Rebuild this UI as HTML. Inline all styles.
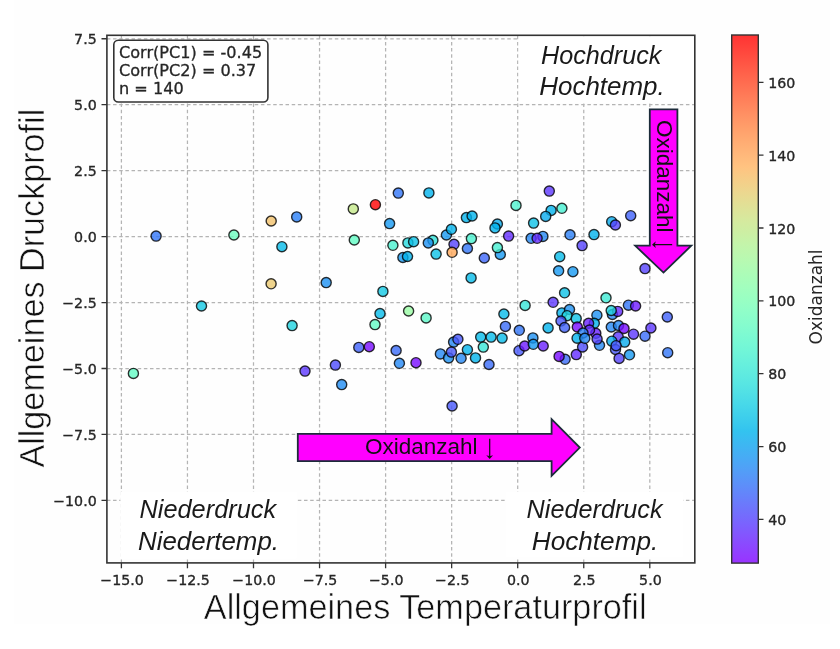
<!DOCTYPE html>
<html><head><meta charset="utf-8"><title>Scatter</title>
<style>html,body{margin:0;padding:0;background:#fff;}svg{display:block;will-change:transform;}</style>
</head><body>
<svg width="840" height="649" viewBox="0 0 840 649"><defs><linearGradient id="cb" x1="0" y1="1" x2="0" y2="0"><stop offset="0.000" stop-color="#9933ff"/><stop offset="0.025" stop-color="#8f43ff"/><stop offset="0.050" stop-color="#8553fe"/><stop offset="0.075" stop-color="#7a63fe"/><stop offset="0.100" stop-color="#7072fc"/><stop offset="0.125" stop-color="#6681fb"/><stop offset="0.150" stop-color="#5c90f9"/><stop offset="0.175" stop-color="#529ef7"/><stop offset="0.200" stop-color="#47abf5"/><stop offset="0.225" stop-color="#3db7f2"/><stop offset="0.250" stop-color="#33c3ef"/><stop offset="0.275" stop-color="#3dceec"/><stop offset="0.300" stop-color="#47d8e9"/><stop offset="0.325" stop-color="#52e1e5"/><stop offset="0.350" stop-color="#5ce9e1"/><stop offset="0.375" stop-color="#66efdd"/><stop offset="0.400" stop-color="#70f5d8"/><stop offset="0.425" stop-color="#7af9d3"/><stop offset="0.450" stop-color="#85fcce"/><stop offset="0.475" stop-color="#8ffec9"/><stop offset="0.500" stop-color="#99ffc3"/><stop offset="0.525" stop-color="#a3febd"/><stop offset="0.550" stop-color="#adfcb7"/><stop offset="0.575" stop-color="#b8f9b1"/><stop offset="0.600" stop-color="#c2f5ab"/><stop offset="0.625" stop-color="#ccefa4"/><stop offset="0.650" stop-color="#d6e99e"/><stop offset="0.675" stop-color="#e0e197"/><stop offset="0.700" stop-color="#ebd890"/><stop offset="0.725" stop-color="#f5ce88"/><stop offset="0.750" stop-color="#ffc381"/><stop offset="0.775" stop-color="#ffb77a"/><stop offset="0.800" stop-color="#ffab72"/><stop offset="0.825" stop-color="#ff9e6a"/><stop offset="0.850" stop-color="#ff9063"/><stop offset="0.875" stop-color="#ff815b"/><stop offset="0.900" stop-color="#ff7253"/><stop offset="0.925" stop-color="#ff634b"/><stop offset="0.950" stop-color="#ff5343"/><stop offset="0.975" stop-color="#ff433b"/><stop offset="1.000" stop-color="#ff3333"/></linearGradient></defs><rect x="0" y="0" width="840" height="649" fill="#ffffff"/><rect x="14" y="0" width="816" height="624" fill="#fefefe"/><path d="M121.40 562.90V35.30M187.45 562.90V35.30M253.50 562.90V35.30M319.55 562.90V35.30M385.60 562.90V35.30M451.65 562.90V35.30M517.70 562.90V35.30M583.75 562.90V35.30M649.80 562.90V35.30M106.90 38.75H694.80M106.90 104.70H694.80M106.90 170.65H694.80M106.90 236.60H694.80M106.90 302.55H694.80M106.90 368.50H694.80M106.90 434.45H694.80M106.90 500.40H694.80" stroke="#b4b4b4" stroke-width="1.25" stroke-dasharray="3.5 2.66" fill="none"/><rect x="518.6" y="36.2" width="175.3" height="67" fill="#fff"/><rect x="120.4" y="492" width="176.4" height="66.5" fill="#fff"/><rect x="506" y="492" width="177" height="65" fill="#fff"/><circle cx="156.1" cy="236.1" r="5.05" fill="#3275f8" fill-opacity="0.8" stroke="#000" stroke-opacity="0.8" stroke-width="1.4"/><circle cx="233.9" cy="235.0" r="5.05" fill="#6cfdbf" fill-opacity="0.8" stroke="#000" stroke-opacity="0.8" stroke-width="1.4"/><circle cx="271.2" cy="221.0" r="5.05" fill="#f2c26b" fill-opacity="0.8" stroke="#000" stroke-opacity="0.8" stroke-width="1.4"/><circle cx="281.9" cy="246.7" r="5.05" fill="#06bbea" fill-opacity="0.8" stroke="#000" stroke-opacity="0.8" stroke-width="1.4"/><circle cx="271.1" cy="283.8" r="5.05" fill="#ebc970" fill-opacity="0.8" stroke="#000" stroke-opacity="0.8" stroke-width="1.4"/><circle cx="201.5" cy="306.0" r="5.05" fill="#14c9e5" fill-opacity="0.8" stroke="#000" stroke-opacity="0.8" stroke-width="1.4"/><circle cx="296.7" cy="216.9" r="5.05" fill="#2b7ff6" fill-opacity="0.8" stroke="#000" stroke-opacity="0.8" stroke-width="1.4"/><circle cx="353.3" cy="208.9" r="5.05" fill="#c4e98a" fill-opacity="0.8" stroke="#000" stroke-opacity="0.8" stroke-width="1.4"/><circle cx="354.3" cy="240.0" r="5.05" fill="#62fbc4" fill-opacity="0.8" stroke="#000" stroke-opacity="0.8" stroke-width="1.4"/><circle cx="326.2" cy="282.6" r="5.05" fill="#1d91f3" fill-opacity="0.8" stroke="#000" stroke-opacity="0.8" stroke-width="1.4"/><circle cx="292.1" cy="325.6" r="5.05" fill="#1fd3e1" fill-opacity="0.8" stroke="#000" stroke-opacity="0.8" stroke-width="1.4"/><circle cx="133.4" cy="373.4" r="5.05" fill="#62fbc4" fill-opacity="0.8" stroke="#000" stroke-opacity="0.8" stroke-width="1.4"/><circle cx="305.0" cy="371.1" r="5.05" fill="#5c37fe" fill-opacity="0.8" stroke="#000" stroke-opacity="0.8" stroke-width="1.4"/><circle cx="335.4" cy="365.1" r="5.05" fill="#4e4cfc" fill-opacity="0.8" stroke="#000" stroke-opacity="0.8" stroke-width="1.4"/><circle cx="341.7" cy="384.6" r="5.05" fill="#218df4" fill-opacity="0.8" stroke="#000" stroke-opacity="0.8" stroke-width="1.4"/><circle cx="358.8" cy="347.4" r="5.05" fill="#4061fa" fill-opacity="0.8" stroke="#000" stroke-opacity="0.8" stroke-width="1.4"/><circle cx="369.3" cy="346.7" r="5.05" fill="#780bff" fill-opacity="0.8" stroke="#000" stroke-opacity="0.8" stroke-width="1.4"/><circle cx="375.4" cy="204.7" r="5.05" fill="#ff0000" fill-opacity="0.8" stroke="#000" stroke-opacity="0.8" stroke-width="1.4"/><circle cx="398.3" cy="193.1" r="5.05" fill="#3275f8" fill-opacity="0.8" stroke="#000" stroke-opacity="0.8" stroke-width="1.4"/><circle cx="428.9" cy="192.9" r="5.05" fill="#01b3ec" fill-opacity="0.8" stroke="#000" stroke-opacity="0.8" stroke-width="1.4"/><circle cx="389.6" cy="223.6" r="5.05" fill="#169af2" fill-opacity="0.8" stroke="#000" stroke-opacity="0.8" stroke-width="1.4"/><circle cx="392.9" cy="245.3" r="5.05" fill="#49f1d0" fill-opacity="0.8" stroke="#000" stroke-opacity="0.8" stroke-width="1.4"/><circle cx="407.9" cy="242.9" r="5.05" fill="#26d9df" fill-opacity="0.8" stroke="#000" stroke-opacity="0.8" stroke-width="1.4"/><circle cx="413.6" cy="241.7" r="5.05" fill="#0dc2e7" fill-opacity="0.8" stroke="#000" stroke-opacity="0.8" stroke-width="1.4"/><circle cx="432.9" cy="240.3" r="5.05" fill="#30e1da" fill-opacity="0.8" stroke="#000" stroke-opacity="0.8" stroke-width="1.4"/><circle cx="428.3" cy="242.9" r="5.05" fill="#1d91f3" fill-opacity="0.8" stroke="#000" stroke-opacity="0.8" stroke-width="1.4"/><circle cx="436.1" cy="254.1" r="5.05" fill="#0dc2e7" fill-opacity="0.8" stroke="#000" stroke-opacity="0.8" stroke-width="1.4"/><circle cx="446.4" cy="235.0" r="5.05" fill="#169af2" fill-opacity="0.8" stroke="#000" stroke-opacity="0.8" stroke-width="1.4"/><circle cx="451.4" cy="229.3" r="5.05" fill="#01b3ec" fill-opacity="0.8" stroke="#000" stroke-opacity="0.8" stroke-width="1.4"/><circle cx="454.0" cy="244.3" r="5.05" fill="#5542fd" fill-opacity="0.8" stroke="#000" stroke-opacity="0.8" stroke-width="1.4"/><circle cx="452.1" cy="252.3" r="5.05" fill="#ffa759" fill-opacity="0.8" stroke="#000" stroke-opacity="0.8" stroke-width="1.4"/><circle cx="466.4" cy="217.6" r="5.05" fill="#01b3ec" fill-opacity="0.8" stroke="#000" stroke-opacity="0.8" stroke-width="1.4"/><circle cx="472.1" cy="216.0" r="5.05" fill="#01b3ec" fill-opacity="0.8" stroke="#000" stroke-opacity="0.8" stroke-width="1.4"/><circle cx="471.4" cy="238.6" r="5.05" fill="#49f1d0" fill-opacity="0.8" stroke="#000" stroke-opacity="0.8" stroke-width="1.4"/><circle cx="467.4" cy="248.5" r="5.05" fill="#3275f8" fill-opacity="0.8" stroke="#000" stroke-opacity="0.8" stroke-width="1.4"/><circle cx="402.9" cy="257.5" r="5.05" fill="#169af2" fill-opacity="0.8" stroke="#000" stroke-opacity="0.8" stroke-width="1.4"/><circle cx="407.5" cy="256.5" r="5.05" fill="#01b3ec" fill-opacity="0.8" stroke="#000" stroke-opacity="0.8" stroke-width="1.4"/><circle cx="484.3" cy="258.0" r="5.05" fill="#3d66fa" fill-opacity="0.8" stroke="#000" stroke-opacity="0.8" stroke-width="1.4"/><circle cx="471.1" cy="277.9" r="5.05" fill="#06bbea" fill-opacity="0.8" stroke="#000" stroke-opacity="0.8" stroke-width="1.4"/><circle cx="382.9" cy="291.4" r="5.05" fill="#14c9e5" fill-opacity="0.8" stroke="#000" stroke-opacity="0.8" stroke-width="1.4"/><circle cx="380.0" cy="313.6" r="5.05" fill="#06bbea" fill-opacity="0.8" stroke="#000" stroke-opacity="0.8" stroke-width="1.4"/><circle cx="408.6" cy="311.0" r="5.05" fill="#9afca5" fill-opacity="0.8" stroke="#000" stroke-opacity="0.8" stroke-width="1.4"/><circle cx="426.1" cy="317.9" r="5.05" fill="#5bf8c8" fill-opacity="0.8" stroke="#000" stroke-opacity="0.8" stroke-width="1.4"/><circle cx="375.0" cy="324.6" r="5.05" fill="#62fbc4" fill-opacity="0.8" stroke="#000" stroke-opacity="0.8" stroke-width="1.4"/><circle cx="396.1" cy="350.5" r="5.05" fill="#396bf9" fill-opacity="0.8" stroke="#000" stroke-opacity="0.8" stroke-width="1.4"/><circle cx="399.4" cy="363.3" r="5.05" fill="#2488f5" fill-opacity="0.8" stroke="#000" stroke-opacity="0.8" stroke-width="1.4"/><circle cx="416.0" cy="362.7" r="5.05" fill="#780bff" fill-opacity="0.8" stroke="#000" stroke-opacity="0.8" stroke-width="1.4"/><circle cx="440.4" cy="353.9" r="5.05" fill="#2488f5" fill-opacity="0.8" stroke="#000" stroke-opacity="0.8" stroke-width="1.4"/><circle cx="448.6" cy="357.9" r="5.05" fill="#1d91f3" fill-opacity="0.8" stroke="#000" stroke-opacity="0.8" stroke-width="1.4"/><circle cx="453.6" cy="342.1" r="5.05" fill="#2488f5" fill-opacity="0.8" stroke="#000" stroke-opacity="0.8" stroke-width="1.4"/><circle cx="457.9" cy="339.3" r="5.05" fill="#4757fb" fill-opacity="0.8" stroke="#000" stroke-opacity="0.8" stroke-width="1.4"/><circle cx="451.4" cy="352.1" r="5.05" fill="#4757fb" fill-opacity="0.8" stroke="#000" stroke-opacity="0.8" stroke-width="1.4"/><circle cx="467.4" cy="349.7" r="5.05" fill="#01b3ec" fill-opacity="0.8" stroke="#000" stroke-opacity="0.8" stroke-width="1.4"/><circle cx="461.1" cy="358.3" r="5.05" fill="#2488f5" fill-opacity="0.8" stroke="#000" stroke-opacity="0.8" stroke-width="1.4"/><circle cx="475.5" cy="357.9" r="5.05" fill="#01b3ec" fill-opacity="0.8" stroke="#000" stroke-opacity="0.8" stroke-width="1.4"/><circle cx="480.7" cy="337.1" r="5.05" fill="#06bbea" fill-opacity="0.8" stroke="#000" stroke-opacity="0.8" stroke-width="1.4"/><circle cx="491.1" cy="337.1" r="5.05" fill="#06bbea" fill-opacity="0.8" stroke="#000" stroke-opacity="0.8" stroke-width="1.4"/><circle cx="483.3" cy="347.1" r="5.05" fill="#37e6d8" fill-opacity="0.8" stroke="#000" stroke-opacity="0.8" stroke-width="1.4"/><circle cx="502.1" cy="338.1" r="5.05" fill="#06bbea" fill-opacity="0.8" stroke="#000" stroke-opacity="0.8" stroke-width="1.4"/><circle cx="505.4" cy="326.4" r="5.05" fill="#396bf9" fill-opacity="0.8" stroke="#000" stroke-opacity="0.8" stroke-width="1.4"/><circle cx="489.0" cy="364.5" r="5.05" fill="#396bf9" fill-opacity="0.8" stroke="#000" stroke-opacity="0.8" stroke-width="1.4"/><circle cx="519.3" cy="330.3" r="5.05" fill="#3275f8" fill-opacity="0.8" stroke="#000" stroke-opacity="0.8" stroke-width="1.4"/><circle cx="519.0" cy="350.7" r="5.05" fill="#4757fb" fill-opacity="0.8" stroke="#000" stroke-opacity="0.8" stroke-width="1.4"/><circle cx="524.7" cy="346.0" r="5.05" fill="#6e1cff" fill-opacity="0.8" stroke="#000" stroke-opacity="0.8" stroke-width="1.4"/><circle cx="532.9" cy="337.9" r="5.05" fill="#1d91f3" fill-opacity="0.8" stroke="#000" stroke-opacity="0.8" stroke-width="1.4"/><circle cx="533.3" cy="344.3" r="5.05" fill="#169af2" fill-opacity="0.8" stroke="#000" stroke-opacity="0.8" stroke-width="1.4"/><circle cx="543.2" cy="346.0" r="5.05" fill="#6a21fe" fill-opacity="0.8" stroke="#000" stroke-opacity="0.8" stroke-width="1.4"/><circle cx="548.1" cy="327.9" r="5.05" fill="#01b3ec" fill-opacity="0.8" stroke="#000" stroke-opacity="0.8" stroke-width="1.4"/><circle cx="565.1" cy="359.3" r="5.05" fill="#396bf9" fill-opacity="0.8" stroke="#000" stroke-opacity="0.8" stroke-width="1.4"/><circle cx="559.1" cy="356.4" r="5.05" fill="#780bff" fill-opacity="0.8" stroke="#000" stroke-opacity="0.8" stroke-width="1.4"/><circle cx="576.3" cy="354.6" r="5.05" fill="#632cfe" fill-opacity="0.8" stroke="#000" stroke-opacity="0.8" stroke-width="1.4"/><circle cx="582.6" cy="347.0" r="5.05" fill="#4e4cfc" fill-opacity="0.8" stroke="#000" stroke-opacity="0.8" stroke-width="1.4"/><circle cx="452.1" cy="406.0" r="5.05" fill="#4757fb" fill-opacity="0.8" stroke="#000" stroke-opacity="0.8" stroke-width="1.4"/><circle cx="503.9" cy="314.0" r="5.05" fill="#06bbea" fill-opacity="0.8" stroke="#000" stroke-opacity="0.8" stroke-width="1.4"/><circle cx="525.1" cy="305.4" r="5.05" fill="#37e6d8" fill-opacity="0.8" stroke="#000" stroke-opacity="0.8" stroke-width="1.4"/><circle cx="497.4" cy="224.0" r="5.05" fill="#08abee" fill-opacity="0.8" stroke="#000" stroke-opacity="0.8" stroke-width="1.4"/><circle cx="495.0" cy="227.9" r="5.05" fill="#01b3ec" fill-opacity="0.8" stroke="#000" stroke-opacity="0.8" stroke-width="1.4"/><circle cx="508.6" cy="236.1" r="5.05" fill="#632cfe" fill-opacity="0.8" stroke="#000" stroke-opacity="0.8" stroke-width="1.4"/><circle cx="516.0" cy="205.4" r="5.05" fill="#4df3ce" fill-opacity="0.8" stroke="#000" stroke-opacity="0.8" stroke-width="1.4"/><circle cx="500.3" cy="254.5" r="5.05" fill="#169af2" fill-opacity="0.8" stroke="#000" stroke-opacity="0.8" stroke-width="1.4"/><circle cx="497.4" cy="247.6" r="5.05" fill="#45efd1" fill-opacity="0.8" stroke="#000" stroke-opacity="0.8" stroke-width="1.4"/><circle cx="549.3" cy="191.1" r="5.05" fill="#5c37fe" fill-opacity="0.8" stroke="#000" stroke-opacity="0.8" stroke-width="1.4"/><circle cx="551.1" cy="210.4" r="5.05" fill="#01b3ec" fill-opacity="0.8" stroke="#000" stroke-opacity="0.8" stroke-width="1.4"/><circle cx="545.7" cy="216.4" r="5.05" fill="#08abee" fill-opacity="0.8" stroke="#000" stroke-opacity="0.8" stroke-width="1.4"/><circle cx="561.9" cy="208.3" r="5.05" fill="#45efd1" fill-opacity="0.8" stroke="#000" stroke-opacity="0.8" stroke-width="1.4"/><circle cx="533.6" cy="223.1" r="5.05" fill="#0dc2e7" fill-opacity="0.8" stroke="#000" stroke-opacity="0.8" stroke-width="1.4"/><circle cx="531.1" cy="238.3" r="5.05" fill="#2488f5" fill-opacity="0.8" stroke="#000" stroke-opacity="0.8" stroke-width="1.4"/><circle cx="542.9" cy="236.4" r="5.05" fill="#2488f5" fill-opacity="0.8" stroke="#000" stroke-opacity="0.8" stroke-width="1.4"/><circle cx="537.1" cy="238.3" r="5.05" fill="#632cfe" fill-opacity="0.8" stroke="#000" stroke-opacity="0.8" stroke-width="1.4"/><circle cx="570.0" cy="234.8" r="5.05" fill="#2b7ff6" fill-opacity="0.8" stroke="#000" stroke-opacity="0.8" stroke-width="1.4"/><circle cx="582.1" cy="245.6" r="5.05" fill="#5542fd" fill-opacity="0.8" stroke="#000" stroke-opacity="0.8" stroke-width="1.4"/><circle cx="559.7" cy="256.7" r="5.05" fill="#06bbea" fill-opacity="0.8" stroke="#000" stroke-opacity="0.8" stroke-width="1.4"/><circle cx="594.0" cy="234.6" r="5.05" fill="#01b3ec" fill-opacity="0.8" stroke="#000" stroke-opacity="0.8" stroke-width="1.4"/><circle cx="611.7" cy="221.7" r="5.05" fill="#08abee" fill-opacity="0.8" stroke="#000" stroke-opacity="0.8" stroke-width="1.4"/><circle cx="615.4" cy="225.0" r="5.05" fill="#5542fd" fill-opacity="0.8" stroke="#000" stroke-opacity="0.8" stroke-width="1.4"/><circle cx="630.7" cy="215.7" r="5.05" fill="#4061fa" fill-opacity="0.8" stroke="#000" stroke-opacity="0.8" stroke-width="1.4"/><circle cx="558.6" cy="270.8" r="5.05" fill="#169af2" fill-opacity="0.8" stroke="#000" stroke-opacity="0.8" stroke-width="1.4"/><circle cx="572.9" cy="271.7" r="5.05" fill="#169af2" fill-opacity="0.8" stroke="#000" stroke-opacity="0.8" stroke-width="1.4"/><circle cx="645.0" cy="268.6" r="5.05" fill="#5542fd" fill-opacity="0.8" stroke="#000" stroke-opacity="0.8" stroke-width="1.4"/><circle cx="564.6" cy="292.8" r="5.05" fill="#0dc2e7" fill-opacity="0.8" stroke="#000" stroke-opacity="0.8" stroke-width="1.4"/><circle cx="553.1" cy="302.3" r="5.05" fill="#5c37fe" fill-opacity="0.8" stroke="#000" stroke-opacity="0.8" stroke-width="1.4"/><circle cx="606.0" cy="297.8" r="5.05" fill="#3eebd5" fill-opacity="0.8" stroke="#000" stroke-opacity="0.8" stroke-width="1.4"/><circle cx="561.9" cy="312.9" r="5.05" fill="#01b3ec" fill-opacity="0.8" stroke="#000" stroke-opacity="0.8" stroke-width="1.4"/><circle cx="569.5" cy="309.5" r="5.05" fill="#1d91f3" fill-opacity="0.8" stroke="#000" stroke-opacity="0.8" stroke-width="1.4"/><circle cx="567.1" cy="315.7" r="5.05" fill="#22d6e0" fill-opacity="0.8" stroke="#000" stroke-opacity="0.8" stroke-width="1.4"/><circle cx="576.2" cy="318.6" r="5.05" fill="#0dc2e7" fill-opacity="0.8" stroke="#000" stroke-opacity="0.8" stroke-width="1.4"/><circle cx="561.0" cy="321.0" r="5.05" fill="#4757fb" fill-opacity="0.8" stroke="#000" stroke-opacity="0.8" stroke-width="1.4"/><circle cx="564.6" cy="327.5" r="5.05" fill="#4061fa" fill-opacity="0.8" stroke="#000" stroke-opacity="0.8" stroke-width="1.4"/><circle cx="596.9" cy="315.2" r="5.05" fill="#1d91f3" fill-opacity="0.8" stroke="#000" stroke-opacity="0.8" stroke-width="1.4"/><circle cx="577.3" cy="327.0" r="5.05" fill="#780bff" fill-opacity="0.8" stroke="#000" stroke-opacity="0.8" stroke-width="1.4"/><circle cx="594.3" cy="323.3" r="5.05" fill="#01b3ec" fill-opacity="0.8" stroke="#000" stroke-opacity="0.8" stroke-width="1.4"/><circle cx="588.6" cy="323.3" r="5.05" fill="#6a21fe" fill-opacity="0.8" stroke="#000" stroke-opacity="0.8" stroke-width="1.4"/><circle cx="595.8" cy="333.3" r="5.05" fill="#6a21fe" fill-opacity="0.8" stroke="#000" stroke-opacity="0.8" stroke-width="1.4"/><circle cx="589.5" cy="330.0" r="5.05" fill="#632cfe" fill-opacity="0.8" stroke="#000" stroke-opacity="0.8" stroke-width="1.4"/><circle cx="583.0" cy="333.0" r="5.05" fill="#2b7ff6" fill-opacity="0.8" stroke="#000" stroke-opacity="0.8" stroke-width="1.4"/><circle cx="577.1" cy="338.2" r="5.05" fill="#01b3ec" fill-opacity="0.8" stroke="#000" stroke-opacity="0.8" stroke-width="1.4"/><circle cx="584.8" cy="338.3" r="5.05" fill="#2488f5" fill-opacity="0.8" stroke="#000" stroke-opacity="0.8" stroke-width="1.4"/><circle cx="599.5" cy="345.3" r="5.05" fill="#2488f5" fill-opacity="0.8" stroke="#000" stroke-opacity="0.8" stroke-width="1.4"/><circle cx="597.1" cy="339.1" r="5.05" fill="#5542fd" fill-opacity="0.8" stroke="#000" stroke-opacity="0.8" stroke-width="1.4"/><circle cx="612.4" cy="314.5" r="5.05" fill="#2488f5" fill-opacity="0.8" stroke="#000" stroke-opacity="0.8" stroke-width="1.4"/><circle cx="617.7" cy="311.4" r="5.05" fill="#632cfe" fill-opacity="0.8" stroke="#000" stroke-opacity="0.8" stroke-width="1.4"/><circle cx="611.2" cy="310.5" r="5.05" fill="#22d6e0" fill-opacity="0.8" stroke="#000" stroke-opacity="0.8" stroke-width="1.4"/><circle cx="611.3" cy="327.0" r="5.05" fill="#2488f5" fill-opacity="0.8" stroke="#000" stroke-opacity="0.8" stroke-width="1.4"/><circle cx="618.5" cy="325.5" r="5.05" fill="#2488f5" fill-opacity="0.8" stroke="#000" stroke-opacity="0.8" stroke-width="1.4"/><circle cx="628.4" cy="305.2" r="5.05" fill="#3275f8" fill-opacity="0.8" stroke="#000" stroke-opacity="0.8" stroke-width="1.4"/><circle cx="635.6" cy="306.0" r="5.05" fill="#6e1cff" fill-opacity="0.8" stroke="#000" stroke-opacity="0.8" stroke-width="1.4"/><circle cx="667.3" cy="317.0" r="5.05" fill="#4061fa" fill-opacity="0.8" stroke="#000" stroke-opacity="0.8" stroke-width="1.4"/><circle cx="624.0" cy="328.5" r="5.05" fill="#780bff" fill-opacity="0.8" stroke="#000" stroke-opacity="0.8" stroke-width="1.4"/><circle cx="650.9" cy="328.0" r="5.05" fill="#5c37fe" fill-opacity="0.8" stroke="#000" stroke-opacity="0.8" stroke-width="1.4"/><circle cx="633.5" cy="334.2" r="5.05" fill="#5c37fe" fill-opacity="0.8" stroke="#000" stroke-opacity="0.8" stroke-width="1.4"/><circle cx="645.0" cy="336.2" r="5.05" fill="#396bf9" fill-opacity="0.8" stroke="#000" stroke-opacity="0.8" stroke-width="1.4"/><circle cx="618.2" cy="336.8" r="5.05" fill="#5c37fe" fill-opacity="0.8" stroke="#000" stroke-opacity="0.8" stroke-width="1.4"/><circle cx="611.8" cy="341.2" r="5.05" fill="#08abee" fill-opacity="0.8" stroke="#000" stroke-opacity="0.8" stroke-width="1.4"/><circle cx="624.7" cy="342.1" r="5.05" fill="#08abee" fill-opacity="0.8" stroke="#000" stroke-opacity="0.8" stroke-width="1.4"/><circle cx="615.5" cy="349.5" r="5.05" fill="#4757fb" fill-opacity="0.8" stroke="#000" stroke-opacity="0.8" stroke-width="1.4"/><circle cx="616.1" cy="345.7" r="5.05" fill="#4757fb" fill-opacity="0.8" stroke="#000" stroke-opacity="0.8" stroke-width="1.4"/><circle cx="619.1" cy="358.4" r="5.05" fill="#5542fd" fill-opacity="0.8" stroke="#000" stroke-opacity="0.8" stroke-width="1.4"/><circle cx="629.5" cy="354.8" r="5.05" fill="#169af2" fill-opacity="0.8" stroke="#000" stroke-opacity="0.8" stroke-width="1.4"/><circle cx="667.7" cy="352.7" r="5.05" fill="#3275f8" fill-opacity="0.8" stroke="#000" stroke-opacity="0.8" stroke-width="1.4"/><rect x="106.9" y="35.3" width="587.90" height="527.60" fill="none" stroke="#333" stroke-width="1.6"/><path d="M121.40 562.90v5.4M187.45 562.90v5.4M253.50 562.90v5.4M319.55 562.90v5.4M385.60 562.90v5.4M451.65 562.90v5.4M517.70 562.90v5.4M583.75 562.90v5.4M649.80 562.90v5.4M106.90 38.75h-5.4M106.90 104.70h-5.4M106.90 170.65h-5.4M106.90 236.60h-5.4M106.90 302.55h-5.4M106.90 368.50h-5.4M106.90 434.45h-5.4M106.90 500.40h-5.4" stroke="#333" stroke-width="1.3"/><g font-family="DejaVu Sans, sans-serif" font-size="14.2" fill="#262626" stroke="#262626" stroke-width="0.35"><text x="122.00" y="584.60" text-anchor="middle">−15.0</text><text x="188.05" y="584.60" text-anchor="middle">−12.5</text><text x="254.10" y="584.60" text-anchor="middle">−10.0</text><text x="320.15" y="584.60" text-anchor="middle">−7.5</text><text x="386.20" y="584.60" text-anchor="middle">−5.0</text><text x="452.25" y="584.60" text-anchor="middle">−2.5</text><text x="518.30" y="584.60" text-anchor="middle">0.0</text><text x="584.35" y="584.60" text-anchor="middle">2.5</text><text x="650.40" y="584.60" text-anchor="middle">5.0</text><text x="96.7" y="44.05" text-anchor="end">7.5</text><text x="96.7" y="110.00" text-anchor="end">5.0</text><text x="96.7" y="175.95" text-anchor="end">2.5</text><text x="96.7" y="241.90" text-anchor="end">0.0</text><text x="96.7" y="307.85" text-anchor="end">−2.5</text><text x="96.7" y="373.80" text-anchor="end">−5.0</text><text x="96.7" y="439.75" text-anchor="end">−7.5</text><text x="96.7" y="505.70" text-anchor="end">−10.0</text></g><rect x="113.8" y="40.3" width="154.1" height="61.7" rx="4.5" fill="#fff" stroke="#333" stroke-width="1.6"/><g font-family="DejaVu Sans, sans-serif" font-size="16.1" fill="#262626" stroke="#262626" stroke-width="0.3"><text x="119.0" y="58.0">Corr(PC1) = -0.45</text><text x="119.0" y="76.2">Corr(PC2) = 0.37</text><text x="119.0" y="94.2">n = 140</text></g><g font-family="Liberation Sans, sans-serif" font-style="italic" font-size="25.4" fill="#1a1a1a" text-anchor="middle"><text x="601.2" y="63.9" textLength="120.5" lengthAdjust="spacingAndGlyphs">Hochdruck</text><text x="602.0" y="95.0" textLength="125.5" lengthAdjust="spacingAndGlyphs">Hochtemp.</text><text x="207.8" y="518.1" textLength="136.5" lengthAdjust="spacingAndGlyphs">Niederdruck</text><text x="208.5" y="550.2" textLength="141" lengthAdjust="spacingAndGlyphs">Niedertemp.</text><text x="594.6" y="518.1" textLength="136" lengthAdjust="spacingAndGlyphs">Niederdruck</text><text x="595.0" y="550.2" textLength="126.5" lengthAdjust="spacingAndGlyphs">Hochtemp.</text></g><polygon points="297.8,433.8 551.6,433.8 551.6,419.2 579.8,447.6 551.6,475.8 551.6,461.2 297.8,461.2" fill="#ff00ff" stroke="#1c2b3a" stroke-width="1.8" stroke-linejoin="miter"/><polygon points="649.8,109.3 677.4,109.3 677.4,245.7 691.3,245.7 663.5,272.6 635.2,245.7 649.8,245.7" fill="#ff00ff" stroke="#1c2b3a" stroke-width="1.8"/><g font-family="Liberation Sans, sans-serif" font-size="22.5" fill="#111"><text x="365" y="454.1">Oxidanzahl<tspan font-family="NanumGothic, Liberation Sans, sans-serif" font-weight="bold" font-size="20.2" dx="7.4" dy="2.1">↓</tspan></text><text transform="translate(656.8,120.0) rotate(90)">Oxidanzahl<tspan font-family="NanumGothic, Liberation Sans, sans-serif" font-weight="bold" font-size="20.2" dx="7.4" dy="2.1">↓</tspan></text></g><g font-family="Liberation Sans, sans-serif" font-size="34.2" fill="#111" stroke="#fefefe" stroke-width="0.6"><text x="203.8" y="618.5" textLength="442.8" lengthAdjust="spacingAndGlyphs">Allgemeines Temperaturprofil</text><text transform="translate(43.6,467.6) rotate(-90)" textLength="358.9" lengthAdjust="spacingAndGlyphs">Allgemeines Druckprofil</text></g><rect x="731.7" y="35" width="26.6" height="528.1" fill="url(#cb)" stroke="#333" stroke-width="1.4"/><g font-family="DejaVu Sans, sans-serif" font-size="14.2" fill="#262626" stroke="#262626" stroke-width="0.35"><text x="768.2" y="525.00">40</text><text x="768.2" y="452.15">60</text><text x="768.2" y="379.30">80</text><text x="768.2" y="306.45">100</text><text x="768.2" y="233.60">120</text><text x="768.2" y="160.75">140</text><text x="768.2" y="87.90">160</text></g><path d="M758.3 519.40h5.2M758.3 446.55h5.2M758.3 373.70h5.2M758.3 300.85h5.2M758.3 228.00h5.2M758.3 155.15h5.2M758.3 82.30h5.2" stroke="#333" stroke-width="1.3"/><text transform="translate(821.9,296.9) rotate(-90)" font-family="DejaVu Sans, sans-serif" font-size="17" fill="#262626" text-anchor="middle">Oxidanzahl</text></svg>
</body></html>
